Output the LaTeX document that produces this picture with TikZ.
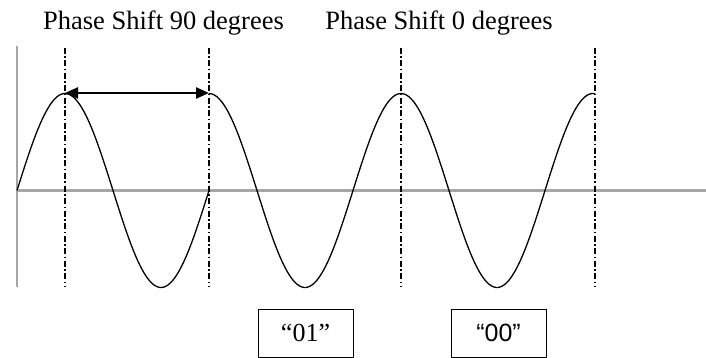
\documentclass[tikz,border=0pt]{standalone}
\usepackage{fontspec}
\setmainfont{Liberation Serif}
\newfontfamily\arialfont{Liberation Sans}
\usetikzlibrary{arrows.meta}

\begin{document}
\begin{tikzpicture}[x=1pt, y=-1pt,
  axis/.style={draw=black!35, line width=1.6pt},
  guide/.style={line width=1.2pt, dash pattern=on 6pt off 2.5pt on 1.5pt off 2.5pt},
  wave/.style={line width=1.3pt},
  dblarr/.style={{Triangle[length=13pt,width=11pt]}-{Triangle[length=13pt,width=11pt]}, line width=2.4pt},
  bitbox/.style={draw, line width=1pt, minimum width=95pt, minimum height=48pt, inner sep=0pt},
  lbl/.style={font=\fontsize{26.5}{30}\selectfont, inner sep=0pt}]
  \useasboundingbox (0,0) rectangle (706,358);

  % Axes
  \draw[axis] (17,46) -- (17,287);
  \draw[axis, line width=2.6pt] (17,190.5) -- (706,190.5);

  % Guide lines at the peaks
  \foreach \gx in {65,209,401,595}
    \draw[guide] (\gx,48) -- (\gx,287);

  % Wave before the shift (period 192)
  \draw[wave] plot[domain=17:209, samples=90] (\x, {190.5-97*sin(1.875*(\x-17))});
  % Wave after the shift
  \draw[wave] plot[domain=209:595, samples=180] (\x, {190.5-97*cos(1.875*(\x-209))});

  % Phase shift arrow
  \coordinate (pk1) at (65,93);
  \coordinate (pk2) at (209,93);
  \draw[dblarr] (pk1) -- (pk2);

  % Labels
  \node[lbl] (lbl90) at (163.5,23) {Phase Shift 90 degrees};
  \node[lbl] (lbl0) at (439,23) {Phase Shift 0 degrees};

  \node[bitbox, font=\fontsize{26}{30}\selectfont] (box01) at (305.5,333) {“01”};
  \node[bitbox, font=\arialfont\fontsize{25}{30}\selectfont] (box00) at (498.5,333) {“00”};
\end{tikzpicture}
\end{document}
